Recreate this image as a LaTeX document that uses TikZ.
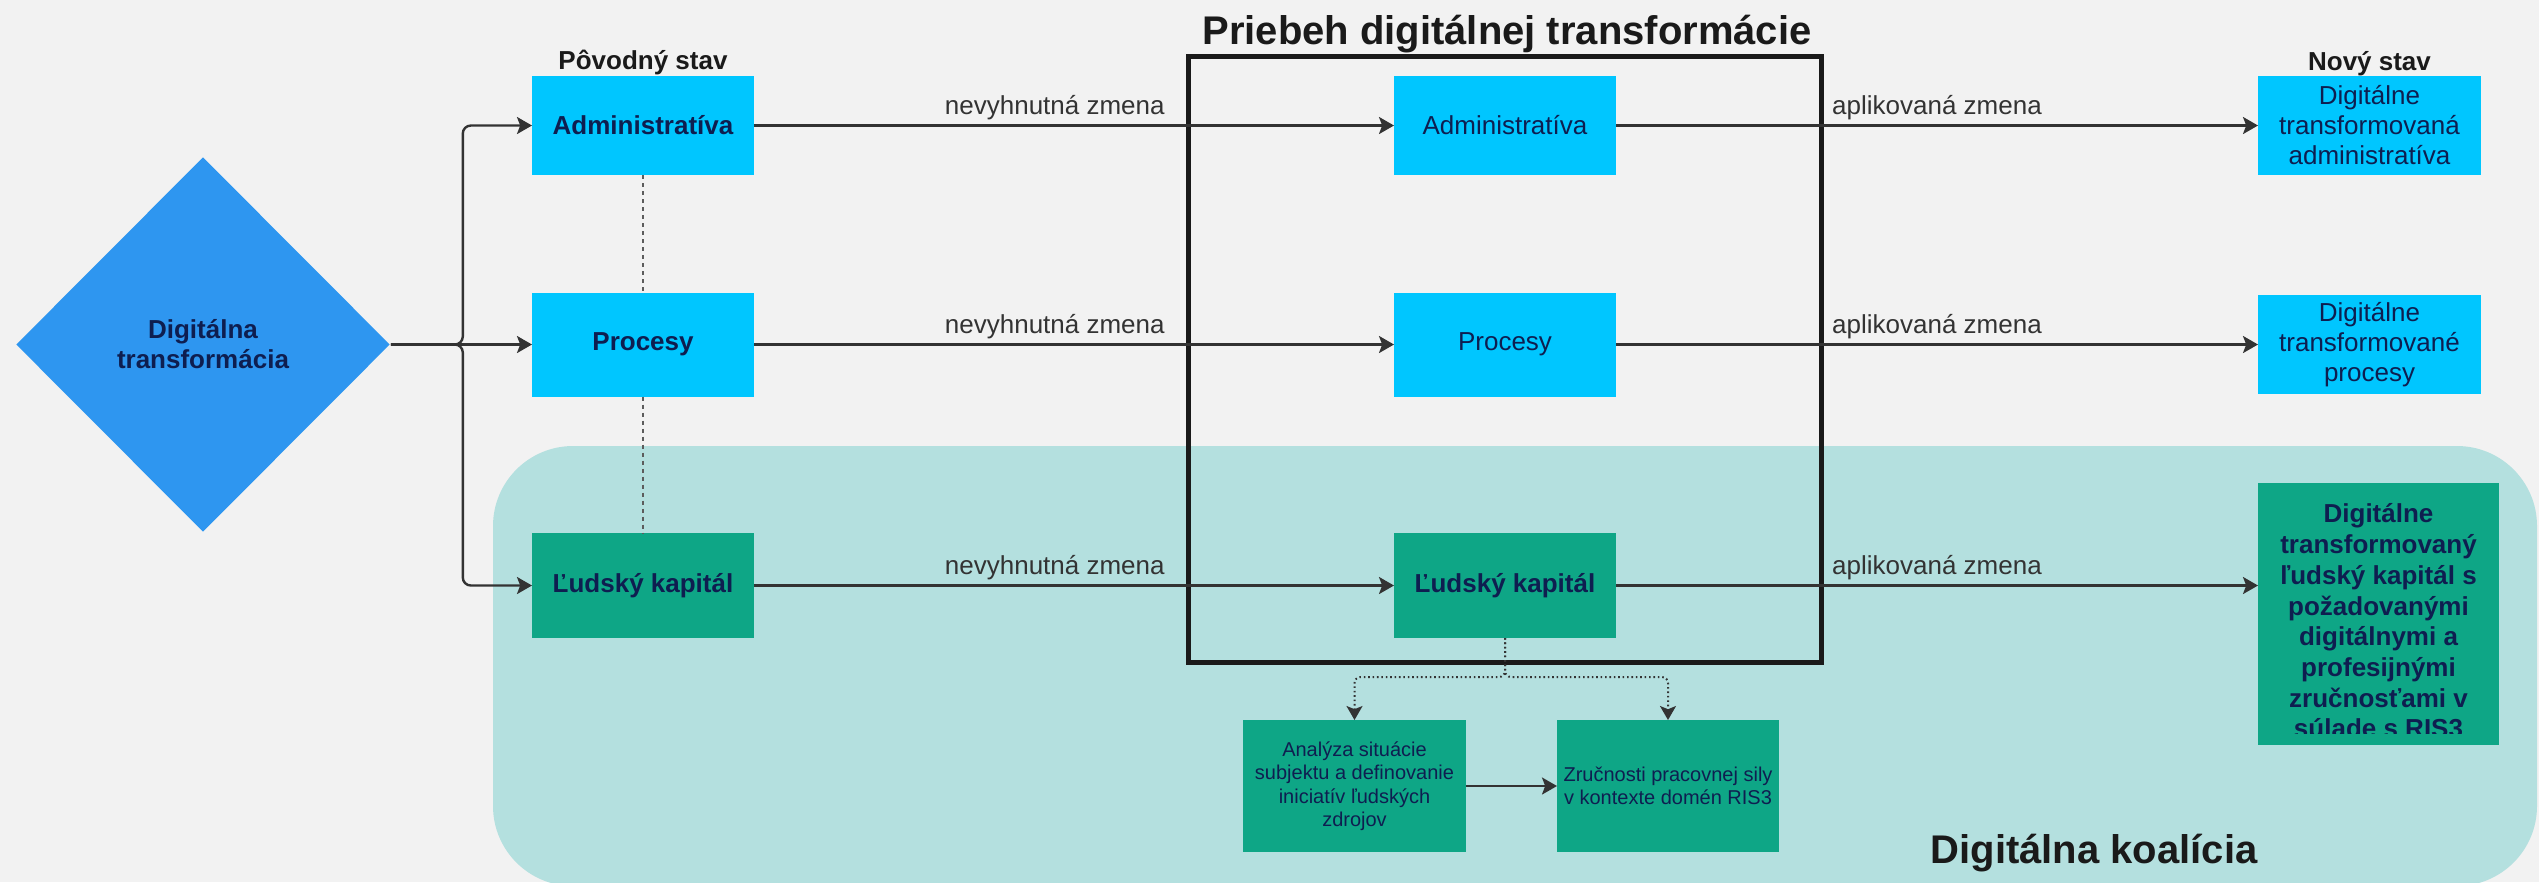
\documentclass[tikz,border=0pt]{standalone}
\usepackage{fontspec}
\setmainfont{Liberation Sans}
\usetikzlibrary{arrows.meta,shapes.geometric}
\definecolor{bgc}{RGB}{242,242,242}
\definecolor{lblue}{RGB}{0,198,255}
\definecolor{dgreen}{RGB}{14,166,134}
\definecolor{tealbg}{RGB}{180,224,223}
\definecolor{dblue}{RGB}{46,150,240}
\definecolor{navy}{RGB}{14,30,80}
\definecolor{agray}{RGB}{51,51,51}
\definecolor{tblack}{RGB}{26,26,26}
\newcommand{\fsMain}{\fontsize{6.5pt}{7.5pt}\selectfont}
\newcommand{\fsBig}{\fontsize{10pt}{12pt}\selectfont}
\newcommand{\fsSmall}{\fontsize{5pt}{5.875pt}\selectfont}
\newcommand{\fsGreen}{\fontsize{6.5pt}{7.675pt}\selectfont}
\begin{document}
\begin{tikzpicture}[x=0.25pt,y=-0.25pt,
  sz/.style 2 args={minimum width=#1*0.25pt, minimum height=#2*0.25pt},
  box/.style={rectangle, inner sep=0pt, outer sep=0pt, text=navy, align=center, font=\fsMain},
  bluebox/.style={box, fill=lblue},
  greenbox/.style={box, fill=dgreen},
  arr/.style={draw=agray, line width=0.6pt, -{Stealth[length=3.75pt, width=4.25pt, inset=0.8pt]}},
  lab/.style={anchor=base, yshift=2.75pt, text=agray, font=\fsMain, inner sep=0pt},
  dashline/.style={draw=agray!80, line width=0.3pt, dash pattern=on 1pt off 1pt},
  dotarr/.style={draw=agray, line width=0.5pt, dash pattern=on 0.4pt off 0.7pt, -{Stealth[length=3.5pt, width=4pt, inset=0.8pt]}},
  heading/.style={anchor=base, text=tblack, font=\bfseries\fsMain, inner sep=0pt},
  bigtitle/.style={anchor=base, text=tblack, font=\bfseries\fsBig, inner sep=0pt}
]
\useasboundingbox (0,0) rectangle (2539,882);
\fill[bgc] (0,0) rectangle (2539,882);
% Digital coalition area
\fill[tealbg, rounded corners=20pt] (493,446) rectangle (2537,886);
\node[bigtitle] (coal) at (2094,863) {Digitálna koalícia};

% Diamond
\node[diamond, fill=dblue, inner sep=0pt, aspect=1, sz={374}{375}, text=navy, align=center, font=\bfseries\fsMain] (dt) at (203,344.5) {Digitálna\\transformácia};

% Left column
\node[heading] (povl) at (643,69) {Pôvodný stav};
\node[bluebox, sz={222}{99}, font=\bfseries\fsMain] (admL) at (643,125.5) {Administratíva};
\node[bluebox, sz={222}{104}, font=\bfseries\fsMain] (procL) at (643,344.5) {Procesy};
\node[greenbox, sz={222}{105}, font=\bfseries\fsMain] (ludL) at (643,585.5) {Ľudský kapitál};

% Middle column
\node[bluebox, sz={222}{99}] (admM) at (1505,125.5) {Administratíva};
\node[bluebox, sz={222}{104}] (procM) at (1505,344.5) {Procesy};
\node[greenbox, sz={222}{105}, font=\bfseries\fsMain] (ludM) at (1505,585.5) {Ľudský kapitál};

% Right column
\node[heading] (novl) at (2369.5,70) {Nový stav};
\node[bluebox, sz={223}{99}] (admR) at (2369.5,125.5) {Digitálne\\transformovaná\\administratíva};
\node[bluebox, sz={223}{99}] (procR) at (2369.5,344.5) {Digitálne\\transformované\\procesy};
\node[greenbox, sz={241}{262}] (ludR) at (2378.5,614) {};
\begin{scope}
\clip (ludR.north west) rectangle ([yshift=3pt]ludR.south east);
\node[box, font=\bfseries\fsGreen] (ludRt) at (2378.5,621) {Digitálne\\transformovaný\\ľudský kapitál s\\požadovanými\\digitálnymi a\\profesijnými\\zručnosťami v\\súlade s RIS3};
\end{scope}

% Bottom boxes
\node[greenbox, sz={223}{132}, font=\fsSmall] (anal) at (1354.5,786) {Analýza situácie\\subjektu a definovanie\\iniciatív ľudských\\zdrojov};
\node[greenbox, sz={222}{132}, font=\fsSmall] (zruc) at (1668,786) {Zručnosti pracovnej sily\\v kontexte domén RIS3};

% Frame of the transformation
\node[bigtitle] (ttl) at (1507,44) {Priebeh digitálnej transformácie};
\draw[tblack, line width=1.25pt] (1188,56) rectangle (1821,662);

% Connectors from the diamond
\draw[arr, rounded corners=2pt] (dt.east) -- ++(72,0) |- (admL.west);
\draw[arr] (dt.east) -- (procL.west);
\draw[arr, rounded corners=2pt] (dt.east) -- ++(72,0) |- (ludL.west);

% Dashed links between original states
\draw[dashline] (admL.south) -- (procL.north);
\draw[dashline] (procL.south) -- (ludL.north);

% Row connectors
\draw[arr] (admL.east) -- node[lab, pos=0.47] {nevyhnutná zmena} (admM.west);
\draw[arr] (procL.east) -- node[lab, pos=0.47] {nevyhnutná zmena} (procM.west);
\draw[arr] (ludL.east) -- node[lab, pos=0.47] {nevyhnutná zmena} (ludM.west);
\draw[arr] (admM.east) -- node[lab, pos=0.5] {aplikovaná zmena} (admR.west);
\draw[arr] (procM.east) -- node[lab, pos=0.5] {aplikovaná zmena} (procR.west);
\draw[arr] (ludM.east) -- node[lab, pos=0.5] {aplikovaná zmena} (ludM.east -| ludR.west);

% Dotted branches
\draw[dotarr, rounded corners=1.5pt] (ludM.south) -- ++(0,39) -| (anal.north);
\draw[dotarr, rounded corners=1.5pt] (ludM.south) -- ++(0,39) -| (zruc.north);
\draw[arr] (anal.east) -- (zruc.west);
\end{tikzpicture}
\end{document}
